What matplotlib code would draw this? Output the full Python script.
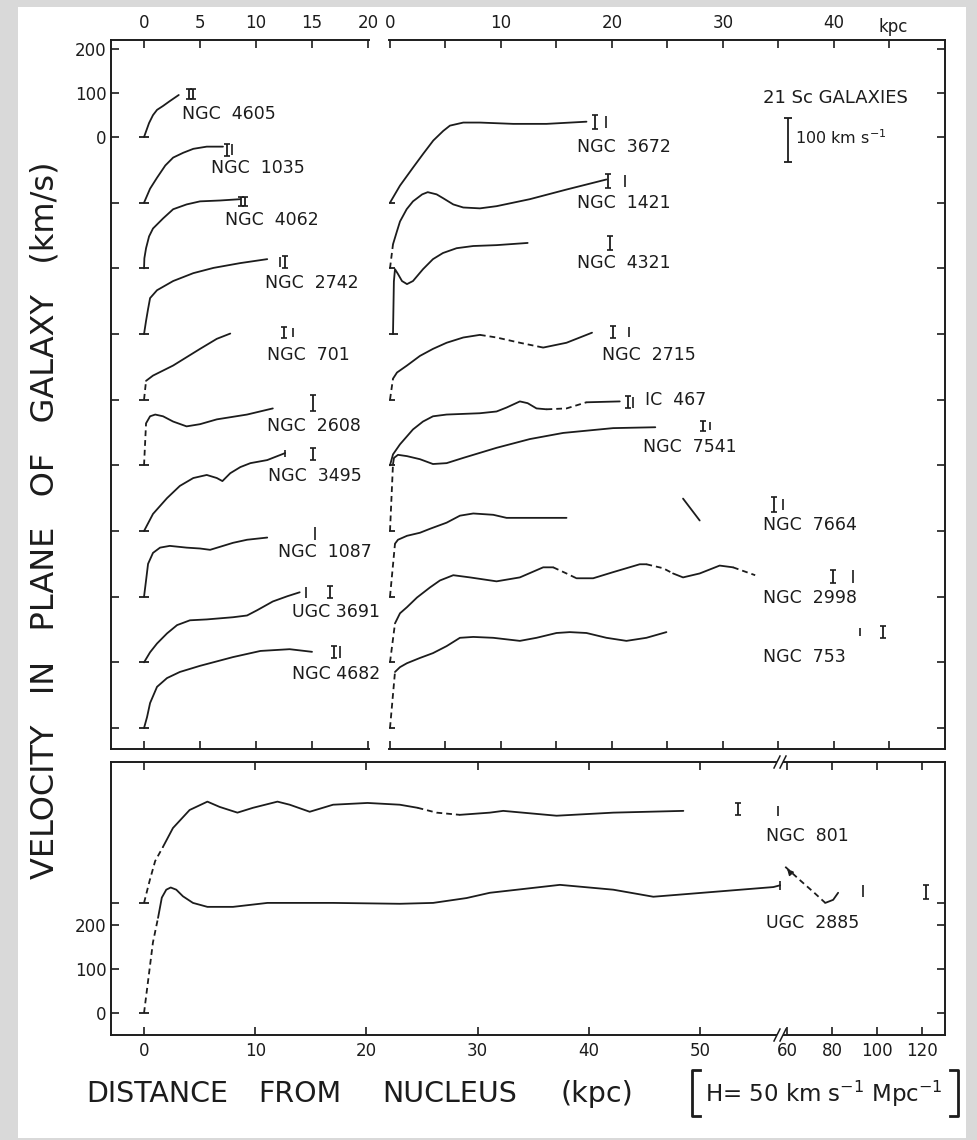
import numpy as np
import matplotlib
matplotlib.use("Agg")
import matplotlib.pyplot as plt
from matplotlib.patches import Rectangle
from matplotlib.lines import Line2D

plt.rcParams['font.family'] = ['DejaVu Sans']

# ======================= DATA (kpc, km/s) =======================
# ---- upper panel, left column: baseline k -> offset -150*k km/s ----
LEFT_NAMES = ["NGC  4605", "NGC  1035", "NGC  4062", "NGC  2742", "NGC  701",
              "NGC  2608", "NGC  3495", "NGC  1087", "UGC 3691", "NGC 4682"]
N4605_R = [0, 0.45, 0.8, 1.16, 1.7, 2.3, 3.1]
N4605_V = [0, 32, 50, 62, 71, 82, 96]
N1035_R = [0, 0.54, 1.16, 1.9, 2.6, 3.5, 4.4, 5.6, 7.05]
N1035_V = [0, 32, 57, 85, 103, 114, 123, 128, 128]
N4062_R = [0, 0.03, 0.18, 0.45, 0.8, 1.7, 2.6, 3.8, 5.0, 6.8, 8.6]
N4062_V = [0, 23, 46, 73, 91, 114, 135, 146, 153, 155, 158]
N2742_R = [0, 0.18, 0.36, 0.54, 1.16, 2.6, 4.4, 6.2, 8.6, 11.0]
N2742_V = [0, 30, 57, 82, 100, 121, 139, 151, 162, 171]
N701_R = [0, 0.18, 0.8, 2.6, 5.0, 6.5, 7.7]
N701_V = [0, 43, 55, 78, 116, 139, 151]
N701_DASH = [(0, 1)]
N2608_R = [0, 0.18, 0.54, 1.0, 1.7, 2.6, 3.8, 5.0, 6.5, 9.2, 11.5]
N2608_V = [0, 96, 112, 116, 112, 100, 89, 94, 105, 116, 130]
N2608_DASH = [(0, 1)]
N3495_R = [0, 0.8, 2.05, 3.2, 4.4, 5.6, 6.5, 7.0, 7.7, 8.6, 9.5, 11.0, 12.6]
N3495_V = [0, 39, 75, 103, 121, 128, 121, 114, 132, 146, 155, 162, 178]
N1087_R = [0, 0.18, 0.36, 0.8, 1.43, 2.3, 3.8, 5.0, 5.9, 6.8, 7.95, 9.2, 11.0]
N1087_V = [0, 37, 75, 100, 112, 116, 112, 110, 107, 114, 123, 130, 135]
U3691_R = [0, 0.54, 1.16, 2.05, 2.95, 4.1, 5.6, 7.95, 9.2, 10.1, 11.5, 12.8, 13.9]
U3691_V = [0, 23, 43, 66, 85, 96, 98, 103, 107, 119, 139, 151, 160]
N4682_R = [0, 0.27, 0.54, 1.16, 2.05, 3.2, 5.0, 7.95, 10.4, 13.0, 15.0]
N4682_V = [0, 25, 57, 94, 114, 128, 142, 162, 176, 180, 174]

# ---- upper panel, right column (baselines k = 1..9) ----
RIGHT_NAMES = ["NGC  3672", "NGC  1421", "NGC  4321", "NGC  2715", "IC  467",
               "NGC  7541", "NGC  7664", "NGC  2998", "NGC  753"]
N3672_R = [0, 0.9, 2.07, 3.0, 3.9, 4.8, 5.4, 6.6, 8.1, 11.1, 14.1, 17.7]
N3672_V = [0, 39, 80, 112, 142, 164, 176, 183, 183, 180, 180, 185]
N1421_R = [0, 0.27, 0.63, 0.9, 1.5, 2.07, 2.9, 3.4, 4.2, 4.8, 5.7, 6.6, 8.1, 9.6, 12.6, 15.9, 19.5]
N1421_V = [0, 55, 85, 107, 135, 153, 169, 174, 169, 160, 146, 139, 137, 142, 158, 180, 203]
N1421_DASH = [(0, 1)]
N4321_R = [0.27, 0.35, 0.45, 0.72, 1.08, 1.53, 2.07, 2.97, 3.87, 4.77, 6.0, 7.5, 9.6, 12.4]
N4321_V = [0, 120, 148, 137, 121, 114, 121, 148, 171, 185, 196, 201, 203, 208]
N2715_R = [0, 0.27, 0.63, 1.53, 2.7, 3.87, 5.1, 6.6, 8.1, 9.6, 11.7, 13.8, 15.9, 17.1, 18.2]
N2715_V = [0, 48, 62, 78, 100, 116, 130, 142, 148, 142, 130, 119, 130, 142, 153]
N2715_DASH = [(0, 1), (8, 11)]
IC467_R = [0, 0.27, 0.9, 2.07, 2.97, 3.87, 5.1, 8.1, 9.6, 10.5, 11.7, 12.4, 13.2, 14.1, 15.9, 17.7, 20.7]
IC467_V = [0, 25, 48, 82, 100, 112, 116, 119, 123, 132, 146, 142, 130, 128, 130, 144, 146]
IC467_DASH = [(13, 15)]
N7541_R = [0, 0.27, 0.36, 0.72, 1.53, 2.7, 3.87, 5.1, 6.6, 9.6, 12.6, 15.6, 20.1, 23.9]
N7541_V = [0, 153, 167, 174, 171, 164, 153, 155, 167, 190, 210, 224, 235, 237]
N7541_DASH = [(0, 1)]
N7664_R = [0, 0.45, 0.72, 1.53, 2.7, 3.6, 5.1, 6.3, 7.5, 9.3, 10.5, 12.0, 15.9]
N7664_V = [0, 121, 130, 139, 146, 155, 169, 185, 190, 187, 180, 180, 180]
N7664_DASH = [(0, 1)]
N7664_OUTER_R = [26.4, 27.9]
N7664_OUTER_V = [224, 174]
N2998_R = [0, 0.45, 0.9, 1.53, 2.43, 3.6, 4.5, 5.7, 7.2, 9.6, 11.7, 13.8, 14.7, 15.9, 16.8,
           18.3, 20.1, 22.5, 23.1, 24.6, 25.5, 26.4, 27.9, 29.7, 30.9, 32.9]
N2998_V = [0, 89, 112, 126, 148, 171, 187, 199, 194, 185, 194, 217, 217, 203, 192,
           192, 206, 224, 224, 215, 203, 194, 203, 221, 217, 199]
N2998_DASH = [(0, 1), (12, 14), (18, 20), (24, 25)]
N753_R = [0, 0.45, 0.9, 1.53, 2.7, 3.87, 5.1, 6.3, 7.5, 9.3, 11.7, 13.2, 15.0, 16.2, 17.7,
          19.5, 21.3, 23.1, 24.9]
N753_V = [0, 128, 139, 148, 160, 171, 187, 206, 208, 206, 199, 206, 217, 219, 217,
          206, 199, 206, 219]
N753_DASH = [(0, 1)]

# ---- lower panel ----
BOTTOM_NAMES = ["NGC  801", "UGC  2885"]
BOTTOM_OFFSETS = [250, 0]
N801_R = [0, 0.5, 1.0, 1.7, 2.6, 4.1, 5.7, 6.8, 8.4, 9.8, 12.0, 13.1, 14.9, 17.0, 20.1,
          23.0, 24.6, 26.3, 28.4, 31.1, 32.3, 37.1, 42.2, 48.5]
N801_V = [0, 50, 95, 127, 170, 211, 230, 218, 205, 216, 230, 223, 207, 223, 227,
          223, 216, 205, 200, 205, 209, 198, 205, 209]
N801_DASH = [(0, 3), (16, 18)]
U2885_R = [0, 0.4, 0.8, 1.26, 1.6, 2.0, 2.4, 2.9, 3.5, 4.4, 5.7, 8.0, 11.1, 17.0, 23.0,
           26.0, 29.0, 31.1, 37.4, 42.2, 45.8, 51.2, 56.6, 57.2]
U2885_V = [0, 80, 160, 216, 262, 280, 285, 280, 265, 250, 241, 241, 250, 250, 248,
           250, 261, 273, 291, 280, 264, 275, 286, 290]
U2885_DASH = [(0, 3)]
U2885_OUTER_R = [59.1, 66.0, 72.0, 76.9, 80.4, 82.6]
U2885_OUTER_V = [332, 300, 273, 250, 257, 273]
U2885_OUTER_DASH = [(0, 3)]

# ---- bar symbols (r, v, baseline index, half height, capped) ----
LEFT_EB_R = [4.0, 4.4, 7.4, 7.9, 8.7, 9.0, 12.1, 12.6, 12.5, 13.3, 15.1, 15.1, 15.3, 14.5, 16.6, 17.0, 17.5]
LEFT_EB_V = [98, 98, 121, 121, 153, 153, 164, 164, 153, 153, 142, 176, 144, 160, 160, 174, 174]
LEFT_EB_K = [0, 0, 1, 1, 2, 2, 3, 3, 4, 4, 5, 6, 7, 8, 8, 9, 9]
LEFT_EB_H = [11, 11, 14, 12, 11, 11, 12, 14, 13, 10, 18, 14, 14, 12, 14, 13, 13]
LEFT_EB_CAP = [1, 1, 1, 0, 1, 1, 0, 1, 1, 0, 1, 1, 0, 0, 1, 1, 0]

RIGHT_EB_R = [18.5, 19.5, 19.6, 21.2, 19.8, 20.1, 21.5, 21.4, 21.9, 28.2, 28.8, 34.6, 35.4, 39.9, 41.7, 42.3, 44.4]
RIGHT_EB_V = [185, 185, 199, 199, 208, 155, 155, 144, 144, 240, 240, 210, 210, 196, 196, 219, 219]
RIGHT_EB_K = [1, 1, 2, 2, 3, 4, 4, 5, 5, 6, 6, 7, 7, 8, 8, 9, 9]
RIGHT_EB_H = [16, 14, 16, 14, 15, 14, 12, 14, 12, 12, 10, 17, 12, 15, 14, 10, 14]
RIGHT_EB_CAP = [1, 0, 1, 0, 1, 1, 0, 1, 0, 1, 0, 1, 0, 1, 0, 0, 1]

BOTTOM_EB_R = [53.4, 57.0, 93.8, 121.8]
BOTTOM_EB_V = [214, 209, 277, 275]
BOTTOM_EB_OFF = [250, 250, 0, 0]
BOTTOM_EB_H = [14, 12, 14, 15]
BOTTOM_EB_CAP = [1, 0, 0, 1]

STEP = 150  # km/s offset between successive curves in upper panel

LEFT_CURVES = [(N4605_R, N4605_V, []), (N1035_R, N1035_V, []), (N4062_R, N4062_V, []),
               (N2742_R, N2742_V, []), (N701_R, N701_V, N701_DASH), (N2608_R, N2608_V, N2608_DASH),
               (N3495_R, N3495_V, []), (N1087_R, N1087_V, []), (U3691_R, U3691_V, []),
               (N4682_R, N4682_V, [])]
RIGHT_CURVES = [(N3672_R, N3672_V, []), (N1421_R, N1421_V, N1421_DASH), (N4321_R, N4321_V, []),
                (N2715_R, N2715_V, N2715_DASH), (IC467_R, IC467_V, IC467_DASH),
                (N7541_R, N7541_V, N7541_DASH), (N7664_R, N7664_V, N7664_DASH),
                (N2998_R, N2998_V, N2998_DASH), (N753_R, N753_V, N753_DASH)]

# ======================= LAYOUT =======================
W, H = 977, 1140
INK = '#1c1c1c'
fig = plt.figure(figsize=(W / 100, H / 100), dpi=100)
fig.patch.set_facecolor('#d9d9d9')
fig.add_artist(Rectangle((18 / W, 1 - 1138 / H), (966 - 18) / W, (1138 - 7) / H,
                         transform=fig.transFigure, facecolor='white', edgecolor='none', zorder=-5))


def px_axes(x0, y0, x1, y1):
    return fig.add_axes([x0 / W, 1 - y1 / H, (x1 - x0) / W, (y1 - y0) / H])


def ftext(x, y, s, **kw):
    fig.text(x / W, 1 - y / H, s, color=INK, **kw)


def fline(xs, ys, **kw):
    fig.add_artist(Line2D([x / W for x in xs], [1 - y / H for y in ys],
                          transform=fig.transFigure, color=INK, **kw))


axL = px_axes(111, 40, 369, 749)
axR = px_axes(389, 40, 945, 749)
axB = px_axes(111, 762, 945, 1035)

LW = 1.3
DASH = (0, (3.2, 2.2))


def draw_curve(ax, r, v, base, dashed, marker=True):
    r = np.asarray(r, float)
    v = np.asarray(v, float) + base
    n = len(r)
    flags = np.zeros(n - 1, bool)
    for i0, i1 in dashed:
        flags[i0:i1] = True
    i = 0
    while i < n - 1:
        j = i
        while j < n - 1 and flags[j] == flags[i]:
            j += 1
        ax.plot(r[i:j + 1], v[i:j + 1], color=INK, lw=LW,
                ls=DASH if flags[i] else '-', solid_capstyle='round')
        i = j
    if marker:
        ax.plot([r[0]], [v[0]], marker='_', ms=7, mew=1.3, color=INK)


def draw_bars(ax, rs, vs, bases, hs, caps):
    for r, v, b, h, c in zip(rs, vs, bases, hs, caps):
        if c:
            ax.errorbar([r], [v + b], yerr=[h], fmt='none', ecolor=INK, elinewidth=1.3,
                        capsize=2.2, capthick=1.2)
        else:
            ax.vlines([r], [v + b - h], [v + b + h], color=INK, lw=1.2)


# ---------------- upper left ----------------
YTICKS = [200, 100, 0] + [-STEP * k for k in range(1, 10)]
for i, (r, v, d) in enumerate(LEFT_CURVES):
    draw_curve(axL, r, v, -STEP * i, d)
draw_bars(axL, LEFT_EB_R, LEFT_EB_V, [-STEP * k for k in LEFT_EB_K], LEFT_EB_H, LEFT_EB_CAP)
axL.vlines([N3495_R[-1]], [N3495_V[-1] - 6 * STEP - 8], [N3495_V[-1] - 6 * STEP + 8], color=INK, lw=1.2)

axL.set_xlim(-2.95, 20.09)
axL.set_ylim(-1398, 221.6)
axL.set_xticks([0, 5, 10, 15, 20])
axL.set_yticks(YTICKS)
axL.set_yticklabels(['200', '100', '0'] + [''] * 9)
axL.tick_params(axis='both', direction='in', length=6, width=1.2, colors=INK, labelsize=12)
axL.tick_params(axis='x', top=True, bottom=True, labeltop=True, labelbottom=False, pad=6)
axL.tick_params(axis='y', left=True, right=False, pad=3)
axL.spines['right'].set_visible(False)

# ---------------- upper right ----------------
for i, (r, v, d) in enumerate(RIGHT_CURVES):
    draw_curve(axR, r, v, -STEP * (i + 1), d)
draw_curve(axR, N7664_OUTER_R, N7664_OUTER_V, -STEP * 7, [], marker=False)
draw_bars(axR, RIGHT_EB_R, RIGHT_EB_V, [-STEP * k for k in RIGHT_EB_K], RIGHT_EB_H, RIGHT_EB_CAP)
# 100 km/s scale bar
axR.errorbar([35.9], [-7], yerr=[50], fmt='none', ecolor=INK, elinewidth=1.3, capsize=3, capthick=1.3)

axR.set_xlim(-0.09, 50.0)
axR.set_ylim(-1398, 221.6)
axR.set_xticks(np.arange(0, 50, 5))
axR.set_xticklabels(['0', '', '10', '', '20', '', '30', '', '40', ''])
axR.set_yticks(YTICKS)
axR.set_yticklabels([''] * len(YTICKS))
axR.tick_params(axis='both', direction='in', length=6, width=1.2, colors=INK, labelsize=12)
axR.tick_params(axis='x', top=True, bottom=True, labeltop=True, labelbottom=False, pad=6)
axR.tick_params(axis='y', left=False, right=True, labelleft=False)
axR.spines['left'].set_visible(False)

# ---------------- lower panel ----------------
RB = 57.3
KC = 2.25 / 11.12


def fwd(x):
    x = np.asarray(x, float)
    return np.where(x <= RB, x, RB + (x - RB) * KC)


def inv(u):
    u = np.asarray(u, float)
    return np.where(u <= RB, u, RB + (u - RB) / KC)


axB.set_xscale('function', functions=(fwd, inv))
draw_curve(axB, N801_R, N801_V, BOTTOM_OFFSETS[0], N801_DASH)
draw_curve(axB, U2885_R, U2885_V, BOTTOM_OFFSETS[1], U2885_DASH)
draw_curve(axB, U2885_OUTER_R, U2885_OUTER_V, BOTTOM_OFFSETS[1], U2885_OUTER_DASH, marker=False)
axB.annotate('', xy=(U2885_OUTER_R[0], U2885_OUTER_V[0]), xytext=(61.5, 318),
             arrowprops=dict(arrowstyle='-|>', color=INK, lw=1.0, mutation_scale=9))
axB.vlines([U2885_R[-1]], [U2885_V[-1] - 10], [U2885_V[-1] + 10], color=INK, lw=1.2)
draw_bars(axB, BOTTOM_EB_R, BOTTOM_EB_V, BOTTOM_EB_OFF, BOTTOM_EB_H, BOTTOM_EB_CAP)

axB.set_xlim(-2.97, 130.1)
axB.set_ylim(-50, 570)
BX = [0, 10, 20, 30, 40, 50, 60, 80, 100, 120]
axB.set_xticks(BX)
axB.set_xticklabels([str(t) for t in BX])
axB.xaxis.set_minor_locator(matplotlib.ticker.NullLocator())
axB.set_yticks([0, 100, 200, 250])
axB.set_yticklabels(['0', '100', '200', ''])
axB.tick_params(axis='both', direction='in', length=6, width=1.2, colors=INK, labelsize=12)
axB.tick_params(axis='x', top=True, bottom=True, pad=5)
axB.tick_params(axis='y', left=True, right=True, pad=3)

for ax in (axL, axR, axB):
    ax.set_facecolor('white')
    for s in ax.spines.values():
        s.set_linewidth(1.4)
        s.set_color(INK)

# break marks on the lower panel frame
for yb in (762, 1035):
    fig.add_artist(Rectangle((777 / W, 1 - (yb + 2) / H), 6 / W, 4 / H, transform=fig.transFigure,
                             facecolor='white', edgecolor='none', zorder=4))
    fline([774, 780], [yb + 6, yb - 6], lw=1.1, zorder=5)
    fline([780, 786], [yb + 6, yb - 6], lw=1.1, zorder=5)

# ---------------- text ----------------
LEFT_LABEL_X = [182, 211, 225, 265, 267, 267, 268, 278, 292, 292]
LEFT_LABEL_Y = [114, 168, 220, 283, 355, 426, 476, 552, 612, 674]
RIGHT_LABEL_X = [577, 577, 577, 602, 645, 643, 763, 763, 763]
RIGHT_LABEL_Y = [147, 203, 263, 355, 400, 447, 525, 598, 657]
BOTTOM_LABEL_X = [766, 766]
BOTTOM_LABEL_Y = [836, 923]
LABEL_FS = 12.5

for n, x, y in zip(LEFT_NAMES + RIGHT_NAMES + BOTTOM_NAMES,
                   LEFT_LABEL_X + RIGHT_LABEL_X + BOTTOM_LABEL_X,
                   LEFT_LABEL_Y + RIGHT_LABEL_Y + BOTTOM_LABEL_Y):
    ftext(x, y, n, fontsize=LABEL_FS, ha='left', va='center')

ftext(878, 27, 'kpc', fontsize=12, ha='left', va='center')
ftext(763, 98, '21 Sc GALAXIES', fontsize=13, ha='left', va='center')
ftext(795, 138, '100 km s$^{-1}$', fontsize=11.5, ha='left', va='center')

ftext(45, 520, 'VELOCITY   IN   PLANE   OF   GALAXY   (km/s)', fontsize=23,
      rotation=90, ha='center', va='center')
XLABEL_WORDS = ['DISTANCE', 'FROM', 'NUCLEUS', '(kpc)']
XLABEL_CX = [157, 300, 450, 597]
for wd, xp in zip(XLABEL_WORDS, XLABEL_CX):
    ftext(xp, 1094, wd, fontsize=20.5, ha='center', va='center')
ftext(705, 1094, 'H= 50 km s$^{-1}$ Mpc$^{-1}$', fontsize=16.5, ha='left', va='center')
fline([700, 692, 692, 700], [1070, 1070, 1116, 1116], lw=2.0)
fline([950, 958, 958, 950], [1070, 1070, 1116, 1116], lw=2.0)

fig.savefig('out.png', dpi=100, facecolor=fig.get_facecolor())
